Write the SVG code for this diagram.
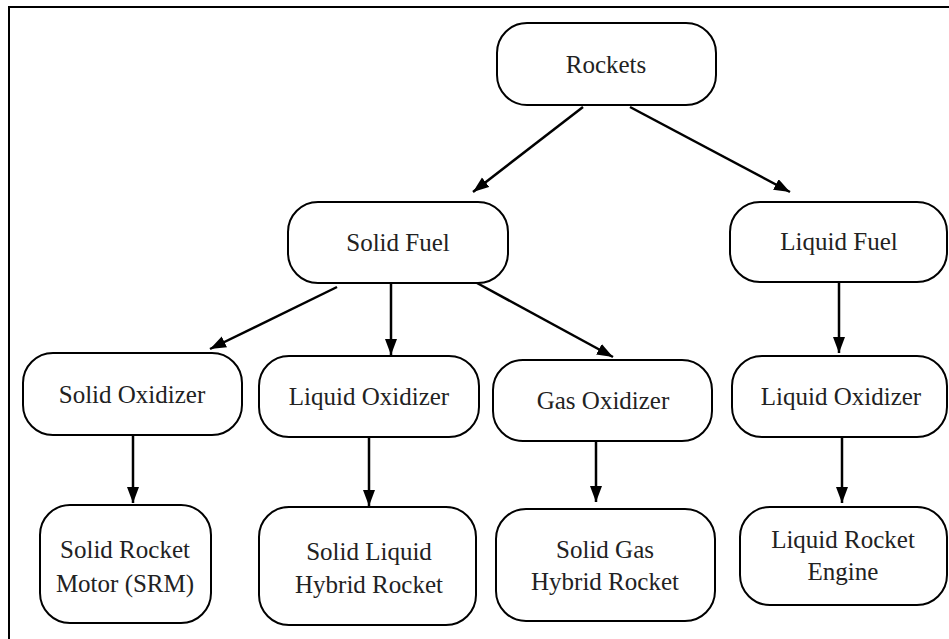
<svg xmlns="http://www.w3.org/2000/svg" width="949" height="639" viewBox="0 0 949 639">
<defs>
<style>
.box{fill:#fff;stroke:#000;stroke-width:2}
.t{font-family:'Liberation Serif','DejaVu Serif',serif;font-size:25px;fill:#222;text-anchor:middle}
.c{stroke:#000;stroke-width:2.5;fill:none;marker-end:url(#ah)}
</style>
<marker id="ah" markerUnits="userSpaceOnUse" markerWidth="18" markerHeight="14" refX="16" refY="6" orient="auto">
<path d="M0,0 L16,6 L0,12 z" fill="#000"/>
</marker>
</defs>
<rect width="949" height="639" fill="#fff"/>
<path d="M9,639 V7 H949" fill="none" stroke="#000" stroke-width="2"/>
<g id="connectors">
<line class="c" x1="583" y1="107" x2="473" y2="192"/>
<line class="c" x1="630" y1="107" x2="790" y2="192"/>
<line class="c" x1="337" y1="287" x2="210" y2="349"/>
<line class="c" x1="391" y1="283" x2="391" y2="355"/>
<line class="c" x1="477" y1="283" x2="613" y2="357"/>
<line class="c" x1="839" y1="282" x2="839" y2="353"/>
<line class="c" x1="133" y1="435" x2="133" y2="503"/>
<line class="c" x1="369" y1="437" x2="369" y2="506"/>
<line class="c" x1="596" y1="441" x2="596" y2="502"/>
<line class="c" x1="842" y1="437" x2="842" y2="503"/>
</g>
<g font-family="Liberation Serif, serif">
<g id="rockets"><rect class="box" x="497" y="23" width="219" height="82" rx="30"/><text class="t" x="606" y="73">Rockets</text></g>
<g id="solid-fuel"><rect class="box" x="288" y="202" width="220" height="81" rx="30"/><text class="t" x="398" y="251">Solid Fuel</text></g>
<g id="liquid-fuel"><rect class="box" x="730" y="202" width="217" height="80" rx="30"/><text class="t" x="839" y="250">Liquid Fuel</text></g>
<g id="solid-oxidizer"><rect class="box" x="23" y="353" width="219" height="82" rx="30"/><text class="t" x="132" y="403">Solid Oxidizer</text></g>
<g id="liquid-oxidizer-1"><rect class="box" x="259" y="356" width="220" height="81" rx="30"/><text class="t" x="369" y="405">Liquid Oxidizer</text></g>
<g id="gas-oxidizer"><rect class="box" x="493" y="360" width="219" height="81" rx="30"/><text class="t" x="603" y="409">Gas Oxidizer</text></g>
<g id="liquid-oxidizer-2"><rect class="box" x="732" y="356" width="215" height="81" rx="30"/><text class="t" x="841" y="405">Liquid Oxidizer</text></g>
<g id="srm"><rect class="box" x="40" y="505" width="171" height="118" rx="30"/><text class="t" x="125" y="558">Solid Rocket</text><text class="t" x="125" y="592">Motor (SRM)</text></g>
<g id="solid-liquid-hybrid"><rect class="box" x="259" y="507" width="217" height="118" rx="30"/><text class="t" x="369" y="560">Solid Liquid</text><text class="t" x="369" y="593">Hybrid Rocket</text></g>
<g id="solid-gas-hybrid"><rect class="box" x="496" y="509" width="219" height="112" rx="30"/><text class="t" x="605" y="558">Solid Gas</text><text class="t" x="605" y="590">Hybrid Rocket</text></g>
<g id="liquid-rocket-engine"><rect class="box" x="740" y="507" width="207" height="98" rx="30"/><text class="t" x="843" y="548">Liquid Rocket</text><text class="t" x="843" y="580">Engine</text></g>
</g>
</svg>
